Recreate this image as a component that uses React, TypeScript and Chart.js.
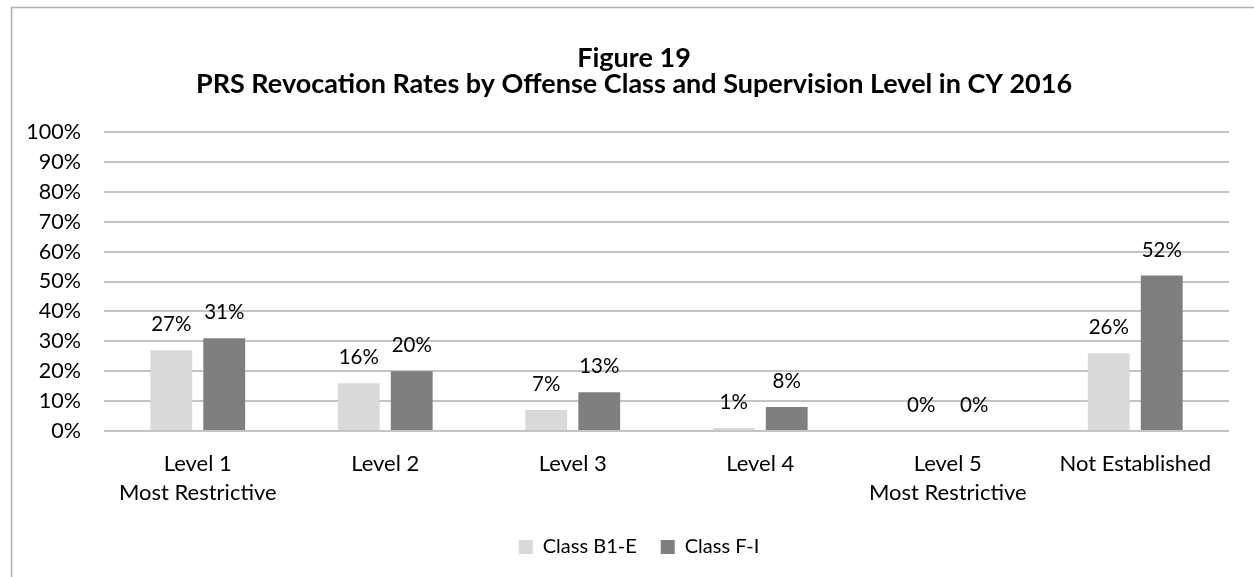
import React, { useEffect, useRef } from 'react';
import { Chart, registerables } from 'chart.js';

Chart.register(...registerables);

const titleLines = ['Figure 19', 'PRS Revocation Rates by Offense Class and Supervision Level in CY 2016'];
const categories: (string | string[])[] = [
  ['Level 1', 'Most Restrictive'],
  'Level 2',
  'Level 3',
  'Level 4',
  ['Level 5', 'Most Restrictive'],
  'Not Established',
];
const seriesNames = ['Class B1-E', 'Class F-I'];
const classB1E = [27, 16, 7, 1, 0, 26];
const classFI = [31, 20, 13, 8, 0, 52];
const yMin = 0;
const yMax = 100;
const yStep = 10;

const FONT = 'Lato';

export default function App() {
  const ref = useRef<HTMLCanvasElement | null>(null);

  useEffect(() => {
    if (!ref.current) return;

    const framePlugin = {
      id: 'frame',
      beforeDraw(chart: any) {
        const ctx = chart.ctx;
        ctx.save();
        ctx.strokeStyle = '#b0b0b0';
        ctx.lineWidth = 1.5;
        ctx.strokeRect(11.5, 7.5, 3000, 3000);
        ctx.restore();
      },
    };

    const boxShift = {
      id: 'boxShift',
      afterLayout(chart: any) {
        if (chart.legend) {
          chart.legend.left += 13;
          chart.legend.right += 13;
        }
        if (chart.titleBlock) {
          chart.titleBlock.left += 8;
          chart.titleBlock.right += 8;
        }
      },
    };

    const valueLabels = {
      id: 'valueLabels',
      afterDatasetsDraw(chart: any) {
        const ctx = chart.ctx;
        ctx.save();
        ctx.font = `20.5px ${FONT}`;
        ctx.fillStyle = '#000000';
        ctx.textAlign = 'center';
        ctx.textBaseline = 'alphabetic';
        chart.data.datasets.forEach((ds: any, i: number) => {
          const meta = chart.getDatasetMeta(i);
          meta.data.forEach((el: any, j: number) => {
            ctx.fillText(`${ds.data[j]}%`, el.x, el.y - 19);
          });
        });
        ctx.restore();
      },
    };

    const chart = new Chart(ref.current, {
      type: 'bar',
      data: {
        labels: categories,
        datasets: [
          {
            label: seriesNames[0],
            data: classB1E,
            backgroundColor: '#d9d9d9',
            categoryPercentage: 0.565,
            barPercentage: 0.79,
          },
          {
            label: seriesNames[1],
            data: classFI,
            backgroundColor: '#7f7f7f',
            categoryPercentage: 0.565,
            barPercentage: 0.79,
          },
        ],
      },
      options: {
        animation: false,
        responsive: true,
        maintainAspectRatio: false,
        layout: { padding: { left: 23, right: 25, top: 0, bottom: 10 } },
        plugins: {
          title: {
            display: true,
            text: titleLines,
            color: '#000000',
            font: { family: FONT, size: 27, weight: 'bold', lineHeight: 26 / 27 },
            padding: { top: 45, bottom: 35 },
          },
          legend: {
            display: true,
            position: 'bottom',
            labels: {
              boxWidth: 14,
              boxHeight: 14,
              padding: 24,
              color: '#000000',
              font: { family: FONT, size: 20 },
            },
          },
          tooltip: { enabled: false },
        },
        scales: {
          x: {
            grid: { display: false, drawTicks: false },
            border: { display: false },
            ticks: {
              color: '#000000',
              padding: 18,
              font: { family: FONT, size: 22, lineHeight: 29 / 22 },
              maxRotation: 0,
              autoSkip: false,
            },
            afterFit(scale: any) {
              scale.height = 82;
            },
          },
          y: {
            min: yMin,
            max: yMax,
            grid: { color: '#c4c4c4', lineWidth: 2, drawTicks: false },
            border: { display: false },
            ticks: {
              stepSize: yStep,
              color: '#000000',
              padding: 23,
              font: { family: FONT, size: 21.5 },
              callback: (v: any) => `${v}%`,
            },
            afterFit(scale: any) {
              scale.width = 81;
            },
          },
        },
      },
      plugins: [framePlugin, boxShift, valueLabels],
    });

    return () => chart.destroy();
  }, []);

  return (
    <div style={{ position: 'fixed', left: 0, top: 0, width: 1254, height: 577, background: '#ffffff' }}>
      <canvas ref={ref} />
    </div>
  );
}
